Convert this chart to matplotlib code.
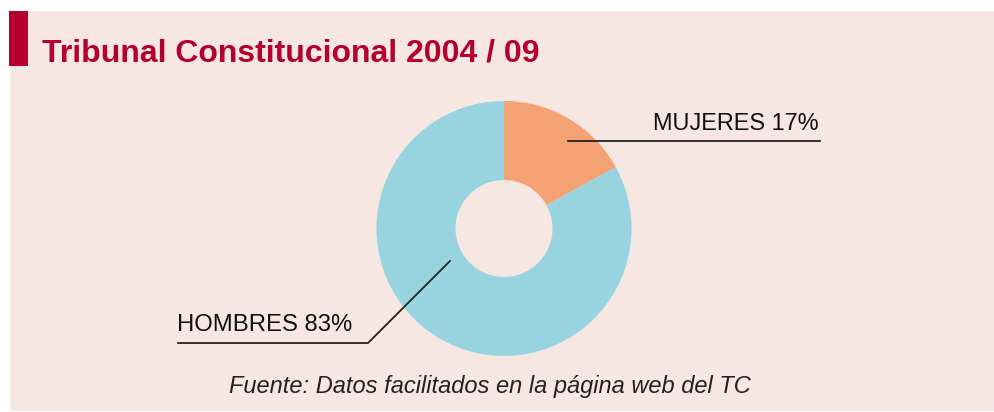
import matplotlib
matplotlib.use("Agg")
import matplotlib.pyplot as plt
from matplotlib.patches import Rectangle

labels = ["MUJERES", "HOMBRES"]
values = [17, 83]
colors = ["#F4A274", "#98D4E0"]
title = "Tribunal Constitucional 2004 / 09"
source = "Fuente: Datos facilitados en la página web del TC"

W, H = 995, 412
fig = plt.figure(figsize=(W / 100, H / 100), dpi=100)
fig.patch.set_facecolor("white")
ax = fig.add_axes([0, 0, 1, 1])
ax.set_xlim(0, W)
ax.set_ylim(0, H)
ax.set_aspect("equal")
ax.axis("off")

def Y(y):
    return H - y

bg = "#F7E7E3"
ax.add_patch(Rectangle((10, Y(411)), W - 10, 400, facecolor=bg, edgecolor="none", zorder=0))
ax.add_patch(Rectangle((9, Y(66)), 19, 55, facecolor="#B5002D", edgecolor="none", zorder=1))

ax.text(42, Y(53), title, fontsize=23, fontweight="bold", color="#B5002D",
        family="Liberation Sans", va="center", ha="left")

cx, cy, R, r = 504, Y(228.5), 127.5, 48.5
ax.pie(values, colors=colors, startangle=90, counterclock=False,
       center=(cx, cy), radius=R, frame=True,
       wedgeprops=dict(width=R - r, edgecolor="none", linewidth=0))
ax.set_xlim(0, W)
ax.set_ylim(0, H)
ax.axis("off")

lab = [f"{labels[0]} {values[0]}%", f"{labels[1]} {values[1]}%"]
ax.plot([568, 820], [Y(141), Y(141)], color="#222222", lw=1.3, zorder=5)
ax.text(819, Y(123), lab[0], fontsize=16.9, family="Liberation Sans", ha="right", va="center", color="#111111")

ax.plot([178, 368, 450], [Y(343), Y(343), Y(261)], color="#222222", lw=1.3, zorder=5)
ax.text(177, Y(325), lab[1], fontsize=17.2, family="Liberation Sans", ha="left", va="center", color="#111111")

ax.text(490, Y(387), source, fontsize=17.0, style="italic", family="Liberation Sans",
        ha="center", va="center", color="#222222")

fig.savefig("out.png", dpi=100, facecolor=fig.get_facecolor())
